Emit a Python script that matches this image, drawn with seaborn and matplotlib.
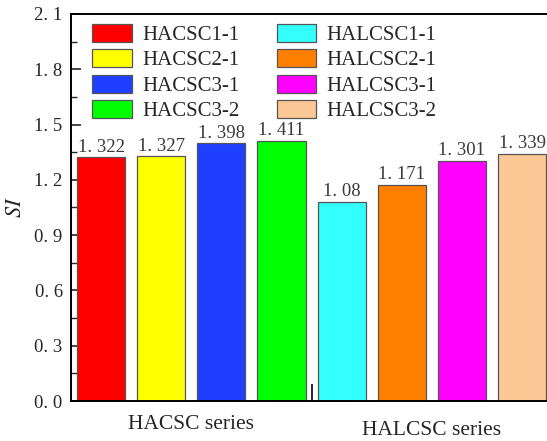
import matplotlib
matplotlib.use("Agg")
import matplotlib.pyplot as plt
from matplotlib.ticker import MultipleLocator, FuncFormatter
import seaborn as sns
import pandas as pd

# Specimen names, SI values and fill colours
specimens = ["HACSC1-1", "HACSC2-1", "HACSC3-1", "HACSC3-2",
             "HALCSC1-1", "HALCSC2-1", "HALCSC3-1", "HALCSC3-2"]
si_values = [1.322, 1.327, 1.398, 1.411, 1.08, 1.171, 1.301, 1.339]
colors = ["#FF0000", "#FFFF00", "#1F3FFF", "#00FF00",
          "#33FFFF", "#FF8000", "#FF00FF", "#FCC896"]
group_labels = ["HACSC series", "HALCSC series"]

sns.set_theme(style="ticks")
plt.rcParams["font.family"] = ["Liberation Serif", "DejaVu Serif"]
plt.rcParams["mathtext.fontset"] = "stix"

df = pd.DataFrame({"specimen": specimens, "SI": si_values})

fig = plt.figure(figsize=(5.47, 4.41), dpi=100)
ax = fig.add_axes([0.1298, 0.0907, 0.8797, 0.8776])

sns.barplot(data=df, x="specimen", y="SI", hue="specimen",
            palette=colors, order=specimens, hue_order=specimens,
            dodge=False, width=0.8, saturation=1,
            edgecolor="#555555", linewidth=0.9,
            legend=True, ax=ax)

# Value labels above the bars
for i, v in enumerate(si_values):
    txt = f"{v:g}".replace(".", ". ")
    ax.text(i, v + 0.01, txt, ha="center", va="bottom",
            fontsize=13.5, color="#3a3a3a")

ax.set_xlim(-0.5, 7.5)
ax.set_ylim(0, 2.1)
ax.yaxis.set_major_locator(MultipleLocator(0.3))
ax.yaxis.set_minor_locator(MultipleLocator(0.15))
ax.yaxis.set_major_formatter(FuncFormatter(lambda y, p: f"{y:.1f}".replace(".", ". ")))
ax.tick_params(axis="y", which="major", direction="in", length=7, width=1.2,
               labelsize=13.5, pad=6)
ax.tick_params(axis="y", which="minor", direction="in", length=4, width=1.0)

# Single divider tick between the two series
ax.set_xticks([3.5])
ax.set_xticklabels([""])
ax.tick_params(axis="x", which="major", direction="in", length=12, width=1.4)

for i, lab in enumerate(group_labels):
    ax.text(1.5 + 4 * i, -0.075 - 0.035 * i, lab, ha="center", va="top",
            fontsize=15.5, transform=ax.transData)

ax.set_xlabel("")
ax.set_ylabel("$SI$", fontsize=16, labelpad=6)

for side in ["left", "top", "bottom", "right"]:
    ax.spines[side].set_visible(True)
    ax.spines[side].set_linewidth(1.4)
    ax.spines[side].set_color("black")

handles, labels = ax.get_legend_handles_labels()
for h in handles:
    h.set_edgecolor("#555555")
ax.legend(handles, labels, ncol=2, loc="upper left",
          bbox_to_anchor=(0.035, 0.985), frameon=False, fontsize=15,
          handlelength=1.9, handleheight=0.95, handletextpad=0.5,
          columnspacing=1.8, labelspacing=0.2, borderaxespad=0.0,
          borderpad=0.2)

fig.savefig("out.png", dpi=100)
